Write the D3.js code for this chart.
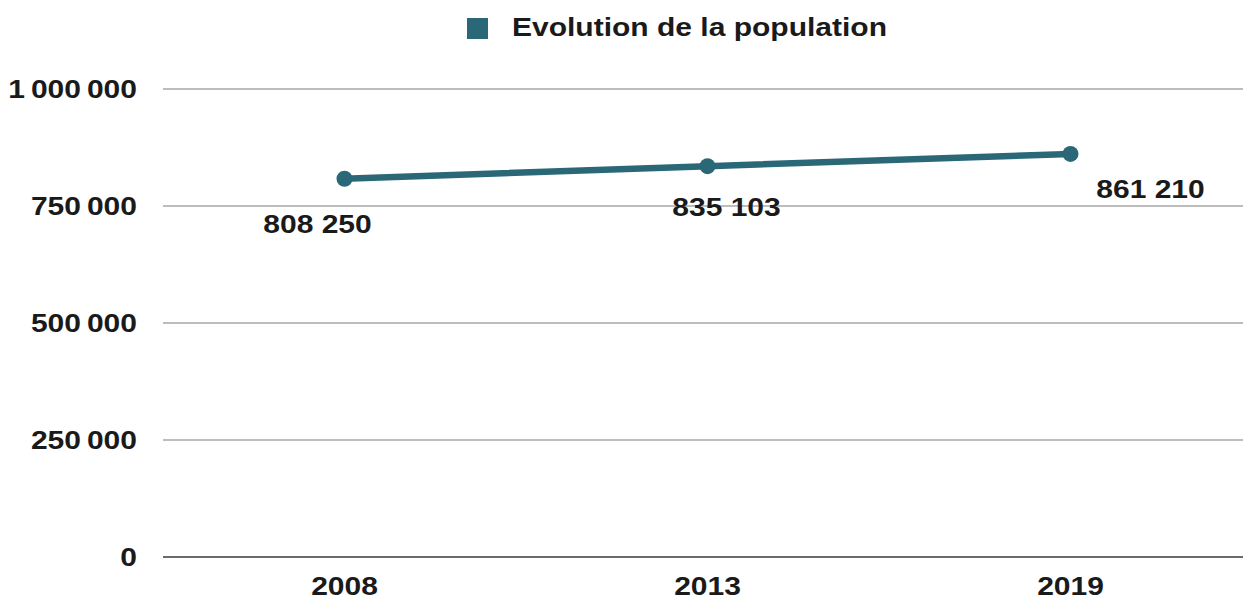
<!DOCTYPE html>
<html>
<head>
<meta charset="utf-8">
<script src="https://cdn.jsdelivr.net/npm/d3@7"></script>
<style>
  body { margin: 0; background: #fff; }
  text { font-family: "Liberation Sans", Arial, sans-serif; font-weight: bold; fill: #1a1a1a; }
</style>
</head>
<body>
<svg width="1243" height="600"></svg>
<script>
(function (d3) {
    'use strict';

    // data
    const years = ['2008', '2013', '2019'];
    const population = [808250, 835103, 861210];
    const yTicks = [0, 250000, 500000, 750000, 1000000];
    const seriesName = 'Evolution de la population';

    const width = 1243;
    const teal = '#2a6878';
    const stretch = 1.2; // glyphs in the original are wider than tall

    const svg = d3.select('svg');

    const fmt = d3.formatLocale({ decimal: ',', thousands: ' ', grouping: [3], currency: ['', ' €'] }).format(',d');
    // axis uses a thin space as separator
    const fmtAxis = d3.formatLocale({ decimal: ',', thousands: '\u2009', grouping: [3], currency: ['', ' €'] }).format(',d');

    const x = d3.scaleBand().domain(years).range([163, 1252]).padding(0);
    const y = d3.scaleLinear().domain([0, 1000000]).range([557, 89]);
    const cx = d => x(d) + x.bandwidth() / 2;

    const stretchText = sel => sel.each(function () {
        const w = this.getComputedTextLength();
        d3.select(this)
            .attr('textLength', w * stretch)
            .attr('lengthAdjust', 'spacingAndGlyphs');
    });

    // gridlines
    svg.append('g').selectAll('line')
        .data(yTicks)
        .enter().append('line')
        .attr('x1', 163)
        .attr('x2', width)
        .attr('y1', d => y(d))
        .attr('y2', d => y(d))
        .attr('stroke', d => d === 0 ? '#6b6b6b' : '#bdbdbd')
        .attr('stroke-width', 2);

    // y axis labels
    svg.append('g').selectAll('text')
        .data(yTicks)
        .enter().append('text')
        .attr('x', 137)
        .attr('y', d => y(d))
        .attr('dy', '0.36em')
        .attr('text-anchor', 'end')
        .style('font-size', '25px')
        .text(fmtAxis)
        .call(stretchText);

    // x axis labels
    svg.append('g').selectAll('text')
        .data(years)
        .enter().append('text')
        .attr('x', cx)
        .attr('y', 595)
        .attr('text-anchor', 'middle')
        .style('font-size', '25px')
        .text(d => d)
        .call(stretchText);

    // line
    const line = d3.line()
        .x((d, i) => cx(years[i]))
        .y(d => y(d));

    svg.append('path')
        .datum(population)
        .attr('d', line)
        .attr('fill', 'none')
        .attr('stroke', teal)
        .attr('stroke-width', 6.5)
        .attr('stroke-linejoin', 'round');

    svg.append('g').selectAll('circle')
        .data(population)
        .enter().append('circle')
        .attr('cx', (d, i) => cx(years[i]))
        .attr('cy', d => y(d))
        .attr('r', 8)
        .attr('fill', teal);

    // value labels (placement follows the original)
    const labelShift = [[-27, 54], [19, 50], [80, 44]];
    svg.append('g').selectAll('text')
        .data(population)
        .enter().append('text')
        .attr('x', (d, i) => cx(years[i]) + labelShift[i][0])
        .attr('y', (d, i) => y(d) + labelShift[i][1])
        .attr('text-anchor', 'middle')
        .style('font-size', '25px')
        .text(fmt)
        .call(stretchText);

    // legend
    const legend = svg.append('g');
    legend.append('rect')
        .attr('x', 467)
        .attr('y', 18)
        .attr('width', 21)
        .attr('height', 21)
        .attr('fill', teal);
    legend.append('text')
        .attr('x', 512)
        .attr('y', 36)
        .style('font-size', '25px')
        .text(seriesName)
        .call(stretchText);

}(d3));
</script>
</body>
</html>
